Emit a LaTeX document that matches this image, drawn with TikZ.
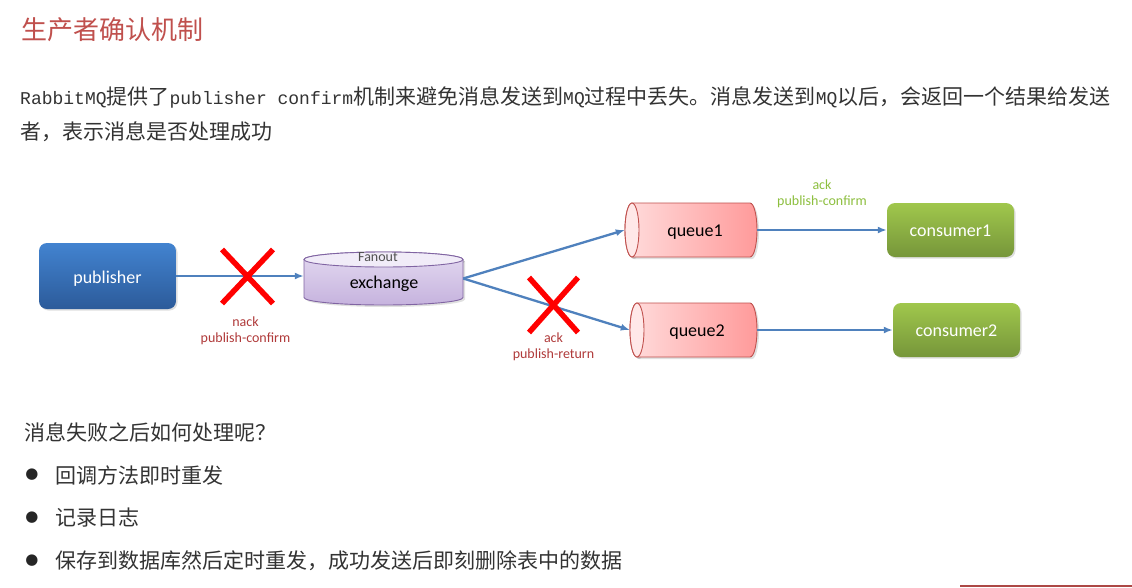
\documentclass[tikz,border=0pt]{standalone}
\usepackage{fontspec}
\setmainfont{Carlito}
\newfontfamily\cjk{Noto Sans CJK SC}
\newfontfamily\monof{Liberation Mono}
\newfontfamily\symf{DejaVu Sans}
\usetikzlibrary{arrows.meta,shadows}
\definecolor{titlered}{HTML}{C0504D}
\definecolor{bodytext}{HTML}{333333}
\definecolor{arrowblue}{HTML}{4F81BD}
\definecolor{pubtop}{HTML}{4283D0}
\definecolor{pubbot}{HTML}{2C5B9A}
\definecolor{contop}{HTML}{A0C74C}
\definecolor{conbot}{HTML}{76963A}
\definecolor{extop}{HTML}{F1ECF8}
\definecolor{exmid}{HTML}{E3D9F0}
\definecolor{exbot}{HTML}{C6B3DE}
\definecolor{exborder}{HTML}{8064A2}
\definecolor{qend}{HTML}{FFE8E8}
\definecolor{qleft}{HTML}{FFDCDC}
\definecolor{qright}{HTML}{FF9A9A}
\definecolor{qborder}{HTML}{C0504D}
\definecolor{nackred}{HTML}{B03A3A}
\definecolor{ackgreen}{HTML}{8DBF3F}
\definecolor{fanoutgray}{HTML}{505050}
\newcommand\lat[1]{{\monof\fontsize{18}{21}\selectfont #1}}
\newcommand\basetext[2]{\raisebox{#1}[0pt][0pt]{#2}}
\def\kk{0.5523}
% vertical cylinder: #1 body style, #2 cap style, #3 cx, #4 cy, #5 half width, #6 half height, #7 ry
\newcommand\vcylinder[7]{%
  \path[#1] ({#3-#5},{#4-#6+#7}) -- ({#3-#5},{#4+#6-#7})
    .. controls ({#3-#5},{#4+#6-#7+\kk*#7}) and ({#3-\kk*#5},{#4+#6}) .. ({#3},{#4+#6})
    .. controls ({#3+\kk*#5},{#4+#6}) and ({#3+#5},{#4+#6-#7+\kk*#7}) .. ({#3+#5},{#4+#6-#7})
    -- ({#3+#5},{#4-#6+#7})
    .. controls ({#3+#5},{#4-#6+#7-\kk*#7}) and ({#3+\kk*#5},{#4-#6}) .. ({#3},{#4-#6})
    .. controls ({#3-\kk*#5},{#4-#6}) and ({#3-#5},{#4-#6+#7-\kk*#7}) .. ({#3-#5},{#4-#6+#7})
    -- cycle;
  \path[#2] ({#3},{#4-#6+#7}) ellipse [x radius=#5pt, y radius=#7pt];}
% horizontal cylinder with visible end on the left: #1 body, #2 cap, #3 cx, #4 cy, #5 hw, #6 hh, #7 rx
\newcommand\hcylinder[7]{%
  \path[#1] ({#3-#5+#7},{#4-#6}) -- ({#3+#5-#7},{#4-#6})
    .. controls ({#3+#5-#7+\kk*#7},{#4-#6}) and ({#3+#5},{#4-\kk*#6}) .. ({#3+#5},{#4})
    .. controls ({#3+#5},{#4+\kk*#6}) and ({#3+#5-#7+\kk*#7},{#4+#6}) .. ({#3+#5-#7},{#4+#6})
    -- ({#3-#5+#7},{#4+#6})
    .. controls ({#3-#5+#7-\kk*#7},{#4+#6}) and ({#3-#5},{#4+\kk*#6}) .. ({#3-#5},{#4})
    .. controls ({#3-#5},{#4-\kk*#6}) and ({#3-#5+#7-\kk*#7},{#4-#6}) .. ({#3-#5+#7},{#4-#6})
    -- cycle;
  \path[#2] ({#3-#5+#7},{#4}) ellipse [x radius=#7pt, y radius=#6pt];}
\begin{document}
\begin{tikzpicture}[x=1pt,y=-1pt,
  txt/.style={inner sep=0pt, anchor=west, text=bodytext, font=\cjk\fontsize{21}{25}\selectfont},
  boxnode/.style={rounded corners=8pt, draw=none, text=white, font=\fontsize{18}{21}\selectfont,
    drop shadow={opacity=0.25, shadow xshift=1.5pt, shadow yshift=-1.5pt}},
  pubbox/.style={boxnode, top color=pubtop, bottom color=pubbot, minimum width=137pt, minimum height=66pt},
  conbox/.style={boxnode, top color=contop, bottom color=conbot, minimum width=127pt, minimum height=54pt},
  holder/.style={draw=none, inner sep=0pt, font=\fontsize{18}{21}\selectfont, text=black},
  qbody/.style={draw=qborder, line width=0.9pt, left color=qleft, right color=qright},
  qcap/.style={draw=qborder, line width=0.9pt, fill=qend},
  ebody/.style={draw=exborder, line width=0.9pt, top color=exmid, bottom color=exbot},
  ecap/.style={draw=exborder, line width=0.9pt, fill=extop},
  shad/.style={fill=black, opacity=0.12},
  flow/.style={draw=arrowblue, line width=2.3pt, -{Latex[length=9pt,width=7pt]}},
  xmark/.style={draw=red, line width=5.5pt},
  smalllab/.style={font=\fontsize{14}{16}\selectfont, align=center, inner sep=0pt}
]
\useasboundingbox[fill=white] (0,0) rectangle (1132,587);

% title and description
\node[txt, text=titlered, font=\cjk\fontsize{26}{30}\selectfont] (title) at (21,30) {生产者确认机制};
\node[txt] (line1) at (20,97) {\lat{RabbitMQ}提供了\lat{publisher confirm}机制来避免消息发送到\lat{MQ}过程中丢失。消息发送到\lat{MQ}以后，会返回一个结果给发送};
\node[txt] (line2) at (20,132) {者，表示消息是否处理成功};

% cylinder drawings
\vcylinder{shad}{shad}{385.5}{280.5}{79.5}{26.5}{7.5}
\vcylinder{ebody}{ecap}{383.5}{278.5}{79.5}{26.5}{7.5}
\hcylinder{shad}{shad}{693}{232}{66}{27}{7}
\hcylinder{qbody}{qcap}{691}{230}{66}{27}{7}
\hcylinder{shad}{shad}{695.5}{332}{63.5}{27}{7}
\hcylinder{qbody}{qcap}{693.5}{330}{63.5}{27}{7}

% diagram nodes
\node[pubbox] (pub) at (107.5,276) {\basetext{-7.5pt}{publisher}};
\node[holder, minimum width=159pt, minimum height=53pt] (ex) at (383.5,278.5) {};
\node[font=\fontsize{14}{16}\selectfont, text=fanoutgray, inner sep=0pt] (exf) at (378,261) {\basetext{0pt}{Fanout}};
\node[font=\fontsize{18}{21}\selectfont, text=black, inner sep=0pt] (exl) at (384,288) {\basetext{0pt}{exchange}};
\node[holder, minimum width=132pt, minimum height=54pt] (q1) at (691,230) {\hspace{8pt}\basetext{-6pt}{queue1}};
\node[holder, minimum width=127pt, minimum height=54pt] (q2) at (693.5,330) {\hspace{7pt}\basetext{-6pt}{queue2}};
\node[conbox] (c1) at (950.5,230) {\basetext{-6pt}{consumer1}};
\node[conbox] (c2) at (956.5,330) {\basetext{-6pt}{consumer2}};

% connectors
\draw[flow] (pub.east) -- (ex.west |- pub.east);
\draw[flow] (ex.east) -- (q1.west);
\draw[flow] (ex.east) -- (q2.west);
\draw[flow] (q1.east) -- (c1.west);
\draw[flow] (q2.east) -- (c2.west);

% failure marks
\coordinate (x1) at (247.5,276.5);
\coordinate (x2) at (553.5,305);
\draw[xmark] (x1) ++(-25.5,-27) -- ++(51,54) (x1) ++(25.5,-27) -- ++(-51,54);
\draw[xmark] (x2) ++(-24.5,-27.5) -- ++(49,55) (x2) ++(24.5,-27.5) -- ++(-49,55);

% labels
\node[smalllab, text=nackred] (lab1) at (245.5,330.5) {nack\\publish-confirm};
\node[smalllab, text=nackred] (lab2) at (553.5,346.5) {ack\\publish-return};
\node[smalllab, text=ackgreen] (lab3) at (822,194) {ack\\publish-confirm};

% follow-up text
\node[txt] (q) at (24,432) {消息失败之后如何处理呢？};
\node[inner sep=0pt, text=black!85, font=\symf\fontsize{15}{18}\selectfont] (b1) at (32,475) {●};
\node[inner sep=0pt, text=black!85, font=\symf\fontsize{15}{18}\selectfont] (b2) at (32,518) {●};
\node[inner sep=0pt, text=black!85, font=\symf\fontsize{15}{18}\selectfont] (b3) at (32,561) {●};
\node[txt] (i1) at (55,475) {回调方法即时重发};
\node[txt] (i2) at (55,518) {记录日志};
\node[txt] (i3) at (55,561) {保存到数据库然后定时重发，成功发送后即刻删除表中的数据};

% bottom rule
\draw[draw=titlered!90!black, line width=2pt] (960,586) -- (1132,586);
\end{tikzpicture}
\end{document}
